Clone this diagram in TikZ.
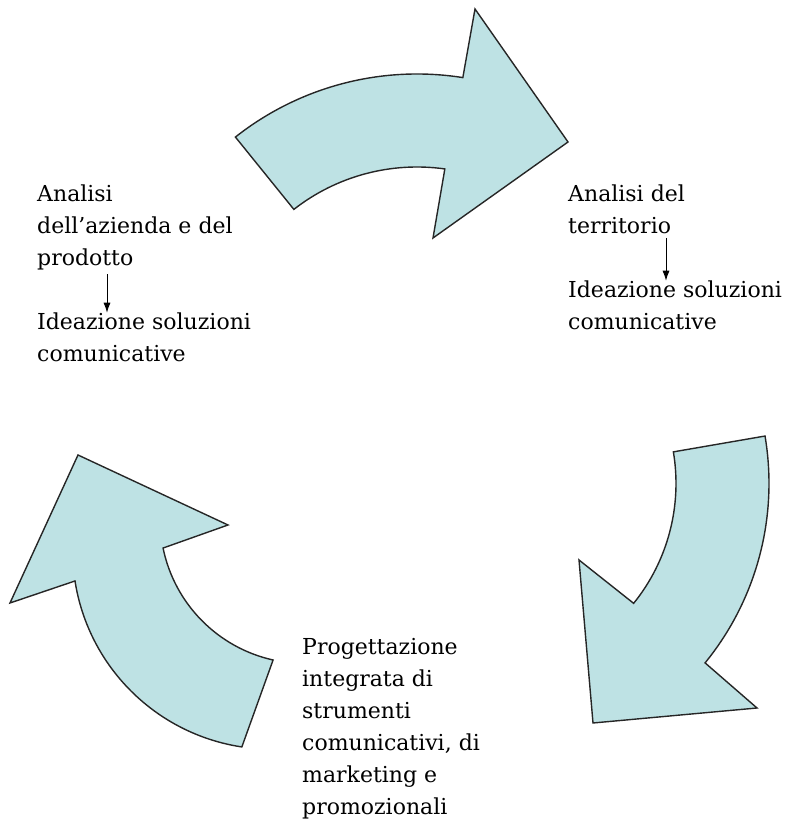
\documentclass[tikz,border=0pt]{standalone}
\usepackage{fontspec}
\setmainfont{DejaVu Serif}
\usepackage{tikz}
\usetikzlibrary{calc, positioning, arrows.meta}
\definecolor{arrowfill}{RGB}{190,226,228}

\begin{document}
\begin{tikzpicture}[x=1pt, y=1pt,
        every node/.style={font=\fontsize{22}{32}\selectfont, align=left, inner xsep=0pt, anchor=base west},
        bigarrow/.style={fill=arrowfill, draw=black!85, line width=1.4pt},
        smallarrow/.style={-{Latex[length=10pt,width=7pt]}, line width=0.9pt}]
            \useasboundingbox (0,0) rectangle (789,829);
            \coordinate (ctop) at (417,462);
            \coordinate (cright) at (485,345.6);
            \coordinate (cleftin) at (304.6,310);
            \coordinate (cleftout) at (271.6,278.8);

            \draw[bigarrow] ($(ctop)+(128.3:293pt)$) arc[start angle=128.3, end angle=81, radius=293pt]
                -- (475,820) -- (568,687) -- (433,591)
                -- ($(ctop)+(82:200pt)$) arc[start angle=82, end angle=128, radius=200pt] -- cycle;
            \draw[bigarrow] ($(cright)+(9.6:284pt)$) arc[start angle=9.6, end angle=-39.2, radius=284pt]
                -- (757,121) -- (593,106) -- (579,269)
                -- ($(cright)+(-38.9:191pt)$) arc[start angle=-38.9, end angle=9.5, radius=191pt] -- cycle;
            \draw[bigarrow] ($(cleftin)+(257.4:144.5pt)$) arc[start angle=257.4, end angle=191.6, radius=144.5pt]
                -- (228,304) -- (78,374) -- (10,226)
                -- ($(cleftout)+(188.9:199pt)$) arc[start angle=188.9, end angle=261.4, radius=199pt] -- cycle;

            \node (aziendaA) at (37,563) {Analisi\\dell’azienda e del\\prodotto};
            \node (aziendaB) at (37,467) {Ideazione soluzioni\\comunicative};
            \draw[smallarrow] ([xshift=70pt]aziendaA.south west) -- ([xshift=70pt,yshift=-3pt]aziendaB.north west);

            \node (territorioA) at (568,595) {Analisi del\\territorio};
            \node (territorioB) at (568,499) {Ideazione soluzioni\\comunicative};
            \draw[smallarrow] ([xshift=98pt]territorioA.south west) -- ([xshift=98pt,yshift=-3pt]territorioB.north west);

            \node (progetto) at (302,14) {Progettazione\\integrata di\\strumenti\\comunicativi, di\\marketing e\\promozionali};
\end{tikzpicture}
\end{document}
